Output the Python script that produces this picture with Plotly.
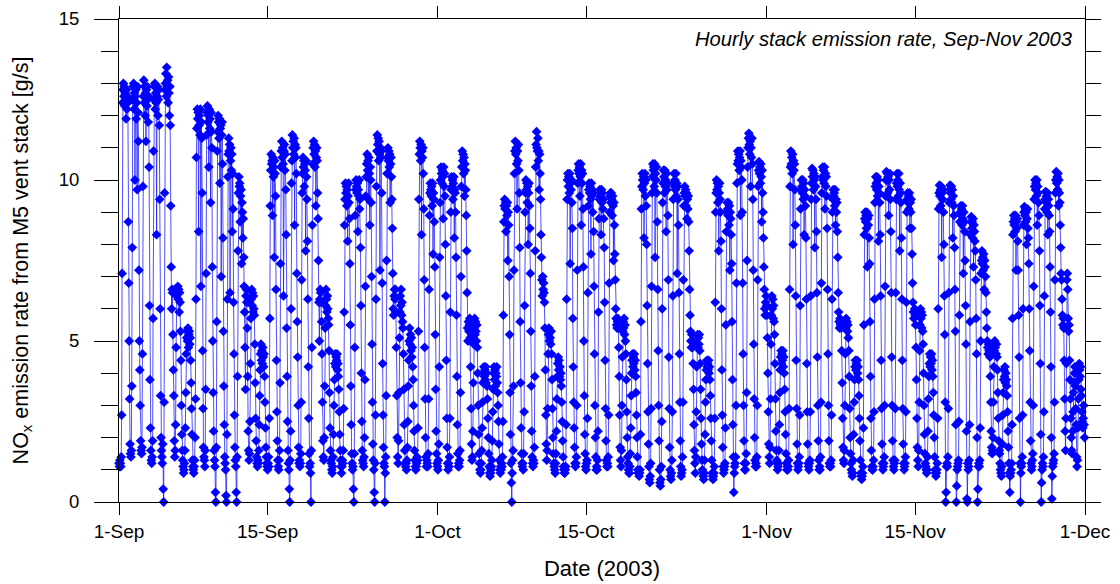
import plotly.graph_objects as go
import pandas as pd

# Hourly NOx emission rate [g/s], one list of 24 hourly values per day
sep_hourly = [
    [1.2,1.1,1.3,1.2,1.1,1.4, 2.7,7.1,12.4,12.8,13.0,12.6, 12.9,12.3,12.7,12.5,11.9,12.8, 12.2,12.6,12.4,8.7,6.8,5.0],
    [3.2,1.8,1.5,1.4,1.6,3.6, 7.9,12.5,12.9,13.0,12.2,12.7, 10.0,12.6,12.8,11.9,12.4,9.7, 12.9,12.1,11.2,7.2,5.0,4.1],
    [3.0,1.9,1.6,1.5,1.7,4.6, 9.8,12.6,13.1,12.4,12.9,12.0, 12.7,11.2,12.8,12.3,12.9,12.5, 11.8,12.6,10.4,6.1,3.8,2.3],
    [1.6,1.3,1.2,1.4,1.9,5.7, 10.9,12.5,12.9,13.0,12.2,12.7, 12.4,8.3,12.6,12.9,12.0,12.5, 12.8,11.7,9.4,6.0,3.3,2.0],
    [1.6,1.4,1.2,1.8,0.4,0.0, 3.1,9.6,12.8,13.0,13.3,12.6, 13.5,12.9,13.1,12.4,13.2,12.7, 12.0,12.9,11.7,9.2,7.3,6.0],
    [6.6,6.5,5.2,4.1,3.3,1.9, 1.4,1.6,2.4,4.8,6.4,6.6, 6.5,6.7,6.3,6.6,5.9,6.5, 6.2,5.3,4.4,3.0,2.1,1.6],
    [1.3,1.1,0.9,1.0,1.2,1.6, 2.3,3.4,4.6,5.1,5.3,5.0, 5.4,4.8,5.2,5.3,4.9,5.1, 4.4,3.7,2.9,2.1,1.3,1.1],
    [1.0,0.9,1.1,1.3,2.0,3.2, 6.3,10.7,11.6,12.2,11.9,12.1, 8.4,11.7,12.0,11.4,12.2,6.7, 11.8,11.3,9.6,4.7,2.9,1.7],
    [1.4,1.3,1.1,1.6,3.5,7.1, 11.4,12.1,12.3,11.8,12.0,10.4, 12.2,11.6,11.9,9.3,12.1,11.5, 11.0,7.3,5.0,3.4,2.2,1.6],
    [1.3,1.1,0.3,0.0,1.7,5.6, 10.9,11.5,12.0,11.8,11.3,11.9, 9.9,11.6,11.7,7.0,11.4,11.8, 10.5,8.2,5.3,3.6,2.4,1.4],
    [1.2,1.0,0.2,0.0,2.1,6.3, 10.1,10.8,11.3,10.9,11.1,6.5, 10.6,11.0,10.3,10.8,8.4,10.2, 9.1,6.2,4.6,2.7,1.7,1.3],
    [1.1,0.3,0.0,1.4,3.9,7.8, 9.6,10.1,9.8,9.9,8.7,9.5, 9.7,7.4,9.3,9.0,8.2,8.8, 7.6,6.7,5.9,4.8,3.5,6.4],
    [6.6,6.2,5.4,3.9,2.2,1.6, 1.3,1.5,2.5,4.3,5.7,6.3, 6.6,6.1,6.5,5.9,6.4,6.0, 5.8,4.9,3.7,2.6,1.9,1.4],
    [1.2,1.1,1.3,1.2,1.6,2.4, 3.3,4.1,4.6,4.9,4.4,4.7, 4.3,4.8,4.5,4.2,4.6,3.9, 3.1,2.3,1.7,1.4,1.2,1.1],
    [1.0,1.2,1.4,1.1,2.6,5.7, 9.2,10.3,10.8,10.5,10.6,8.9, 10.7,10.1,10.4,7.6,10.6,10.2, 9.5,6.6,4.4,2.8,1.9,1.3],
    [1.1,1.0,1.3,1.6,3.7,7.4, 10.4,10.9,11.2,10.7,11.0,10.5, 6.4,10.9,11.1,10.3,10.8,9.7, 8.3,5.4,3.9,2.5,1.6,1.2],
    [1.0,0.4,0.0,1.3,2.2,6.0, 9.9,10.6,11.4,11.0,11.2,10.8, 11.3,8.6,11.1,10.7,11.0,10.2, 7.1,5.6,4.5,3.0,1.7,1.2],
    [1.3,1.1,1.2,1.5,3.1,6.9, 9.6,10.2,10.7,10.4,10.6,9.8, 10.5,10.3,7.8,10.6,10.1,9.4, 8.1,6.3,4.2,2.6,1.5,1.1],
    [1.2,0.9,0.0,1.6,4.8,8.6, 10.5,11.0,11.2,10.8,11.1,10.4, 10.9,9.2,10.7,11.0,10.6,9.6, 8.8,7.5,6.2,5.0,6.3,6.6],
    [6.5,6.2,5.6,4.6,3.1,1.9, 1.4,1.3,2.0,3.6,5.4,6.1, 6.6,6.3,5.9,6.4,6.0,5.7, 5.5,4.7,3.4,2.3,1.6,1.3],
    [1.2,1.0,0.9,1.1,1.4,2.1, 3.0,3.8,4.3,4.6,4.2,4.5, 4.4,4.6,4.1,4.3,3.9,3.5, 2.8,2.1,1.6,1.3,1.1,0.9],
    [1.1,1.3,1.2,1.6,2.9,5.9, 8.6,9.4,9.9,9.6,9.8,9.2, 9.7,8.1,9.5,9.9,9.3,8.8, 7.4,5.5,3.6,2.4,1.5,1.2],
    [1.0,1.1,0.4,0.0,1.5,4.8, 8.9,9.7,10.0,9.8,9.6,9.9, 8.4,9.7,9.5,10.0,9.1,9.4, 7.9,6.1,4.0,2.5,1.6,1.3],
    [1.2,1.1,1.4,2.0,3.8,6.7, 9.5,10.1,10.5,10.8,10.3,10.6, 9.4,10.7,10.2,8.6,10.4,10.0, 9.3,7.0,4.9,3.1,1.8,1.3],
    [1.0,0.3,0.0,1.2,2.7,6.3, 9.8,10.9,11.4,11.1,11.3,10.6, 11.2,10.8,7.2,11.0,10.7,10.9, 9.6,6.8,4.3,2.7,1.7,1.2],
    [1.1,0.0,0.9,1.4,3.3,7.5, 10.2,10.7,11.0,10.6,10.9,10.4, 10.8,9.3,10.5,10.7,10.1,9.4, 8.5,7.1,6.0,5.8,6.4,6.6],
    [6.3,6.6,5.9,4.8,3.3,2.0, 1.4,1.2,1.9,3.4,5.1,5.9, 6.4,6.1,6.6,5.8,6.2,5.6, 5.4,4.6,3.5,2.4,1.6,1.2],
    [1.1,1.2,1.0,1.3,1.7,2.5, 3.6,4.4,5.0,5.4,4.9,5.2, 4.7,5.1,4.5,4.8,4.2,3.8, 3.0,2.2,1.6,1.3,1.1,1.0],
    [1.1,1.2,1.4,1.3,2.3,5.3, 9.4,10.8,11.2,11.0,10.6,11.1, 8.3,10.9,10.7,11.0,10.2,9.1, 6.9,4.8,3.2,2.0,1.4,1.1],
    [1.3,1.2,1.1,1.5,3.2,6.6, 8.9,9.6,9.9,9.7,9.5,9.8, 9.2,9.9,7.7,9.6,9.4,8.7, 7.3,5.2,3.5,2.2,1.5,1.2],
]

oct_hourly = [
    [1.1,1.0,1.3,1.8,4.2,7.6, 9.3,10.0,10.4,10.2,9.9,10.3, 10.1,8.8,10.4,9.8,10.2,9.5, 8.0,6.4,4.4,2.6,1.7,1.2],
    [1.0,1.2,1.1,1.4,2.6,5.9, 9.0,9.7,10.1,9.8,10.0,9.4, 9.9,10.1,8.2,9.7,9.6,9.0, 7.6,5.8,3.9,2.4,1.5,1.1],
    [1.2,1.1,1.3,1.6,3.4,7.0, 9.8,10.4,10.9,10.6,10.8,10.2, 10.7,9.5,10.5,10.3,9.7,8.9, 7.8,6.5,5.4,5.0,5.6,5.3],
    [5.5,5.7,5.1,4.2,2.9,1.8, 1.3,1.4,2.2,3.7,4.9,5.4, 5.7,5.2,5.6,5.3,5.0,5.5, 4.8,4.0,3.0,2.1,1.5,1.2],
    [1.0,0.9,1.0,1.2,1.6,2.3, 3.1,3.7,4.0,4.2,3.9,4.1, 3.8,4.2,3.7,4.0,3.6,3.2, 2.6,2.0,1.5,1.1,0.9,0.8],
    [0.9,1.0,1.1,1.3,1.9,2.8, 3.5,4.0,4.2,3.8,4.1,3.6, 4.0,3.9,4.2,3.7,3.4,3.0, 2.5,1.8,1.3,1.0,0.9,1.1],
    [1.0,1.2,1.1,1.4,2.5,5.8, 8.7,9.2,9.4,9.1,9.3,8.4, 9.2,8.9,9.3,7.5,9.0,8.6, 7.0,5.2,3.4,2.1,1.2,0.6],
    [0.0,0.9,1.3,1.6,3.6,7.2, 10.2,10.9,11.2,10.8,11.0,10.5, 9.1,10.9,10.6,11.1,10.3,9.6, 7.9,5.6,3.7,2.3,1.5,1.2],
    [1.1,1.2,1.0,1.5,2.8,6.1, 9.0,9.6,10.0,9.7,9.9,9.3, 9.8,8.0,9.6,9.9,9.2,8.5, 7.1,5.3,3.6,2.2,1.4,1.2],
    [1.1,1.3,1.2,1.7,3.9,7.8, 10.4,11.1,11.5,11.0,10.9,11.3, 10.6,10.9,9.7,10.8,10.2,9.4, 8.3,7.6,6.9,6.4,7.0,6.6],
    [6.8,6.5,6.2,5.4,4.1,2.7, 1.8,1.3,1.6,2.9,4.6,5.2, 5.4,5.0,5.3,5.1,4.9,5.3, 4.6,3.8,2.9,2.0,1.5,1.2],
    [1.1,1.0,0.9,1.2,1.5,2.2, 3.2,3.9,4.3,4.5,4.1,4.4, 3.9,4.2,3.8,4.0,3.6,3.1, 2.5,1.9,1.4,1.1,1.0,0.9],
    [0.9,1.0,1.1,2.4,6.3,9.4, 10.0,10.2,9.8,10.1,9.6,10.2, 7.4,9.9,9.7,10.0,9.3,8.5, 5.7,4.2,3.1,2.3,1.7,1.2],
    [1.1,1.2,1.4,3.0,7.2,9.9, 10.3,10.5,10.2,10.4,9.5,10.1, 10.5,8.6,10.3,9.9,10.2,9.1, 7.3,5.0,3.3,2.1,1.5,1.1],
    [1.0,1.2,1.3,2.6,6.5,9.2, 9.7,9.9,9.6,9.8,9.4,7.7, 9.9,9.5,9.7,9.0,9.6,8.4, 6.7,4.6,3.0,2.0,1.4,1.0],
    [1.1,1.0,1.3,2.2,5.9,8.8, 9.4,9.7,9.5,9.6,8.3,9.7, 9.3,9.6,9.1,9.4,8.8,7.9, 6.2,4.4,2.9,1.9,1.3,1.1],
    [1.2,1.1,1.4,2.7,6.8,9.0, 9.5,9.6,9.3,9.6,9.4,8.9, 9.5,9.2,7.5,9.3,8.6,7.7, 6.9,6.0,5.7,5.5,5.4,5.6],
    [5.7,5.4,4.8,3.9,2.7,1.7, 1.3,1.1,1.6,3.0,4.5,5.3, 5.6,5.4,5.7,5.2,5.5,5.0, 4.6,3.8,2.8,2.0,1.4,1.2],
    [1.0,0.9,0.9,1.1,1.5,2.3, 3.3,4.0,4.4,4.6,4.2,4.5, 4.3,4.6,4.1,4.4,3.9,3.4, 2.7,2.0,1.4,1.0,0.9,0.9],
    [0.8,0.9,1.0,2.1,5.6,9.1, 9.8,10.2,10.0,9.7,10.1,8.2, 9.9,10.2,9.5,10.0,9.2,8.0, 6.1,4.3,2.8,1.8,1.1,0.7],
    [0.6,0.8,1.2,2.9,6.7,9.6, 10.1,10.5,10.3,10.4,9.8,10.5, 7.6,10.2,10.0,10.4,9.6,8.7, 6.6,4.7,3.0,1.9,1.0,0.6],
    [0.5,0.7,1.1,2.5,6.0,9.3, 9.9,10.3,10.1,9.6,10.3,9.8, 10.0,8.4,10.2,9.7,9.9,8.9, 6.9,4.5,2.9,1.7,1.0,0.8],
    [0.7,0.9,1.3,2.8,6.4,9.4, 9.9,10.2,9.8,10.0,9.7,10.2, 9.5,9.9,7.1,9.8,9.4,8.6, 6.5,4.6,3.1,1.9,1.1,0.8],
    [0.9,1.0,1.4,3.1,6.9,9.2, 9.6,9.8,9.5,9.7,9.2,9.6, 8.8,9.4,9.1,9.5,8.7,7.8, 6.6,5.8,5.3,5.0,4.8,5.2],
    [5.0,4.8,4.3,3.5,2.4,1.6, 1.2,0.9,1.4,2.8,4.2,4.9, 5.2,4.8,5.1,4.9,5.2,4.7, 4.3,3.5,2.6,1.8,1.3,1.0],
    [0.9,0.8,0.7,0.9,1.3,2.1, 3.1,3.8,4.1,4.4,4.2,4.3, 4.1,4.4,4.0,4.2,3.8,3.3, 2.6,1.9,1.3,0.9,0.8,0.7],
    [0.8,0.9,1.1,2.6,6.2,9.0, 9.6,10.0,9.7,9.9,9.3,9.8, 7.8,9.6,9.9,9.4,9.0,8.1, 6.0,4.1,2.7,1.7,1.1,0.9],
    [1.0,1.1,1.2,2.3,5.5,8.4, 9.0,9.3,9.1,8.9,9.3,8.6, 9.2,7.2,9.0,8.8,8.3,7.4, 5.6,3.8,2.4,1.4,0.3,0.9],
    [1.1,1.2,1.4,3.0,6.8,9.9, 10.5,10.9,10.6,10.8,10.3,10.7, 10.9,8.9,10.6,10.4,10.0,9.0, 6.8,4.6,3.0,1.9,1.2,1.0],
    [1.0,1.2,1.5,3.4,7.5,10.4, 11.0,11.3,11.45,11.1,10.8,11.2, 9.8,11.0,10.7,11.3,10.5,9.4, 7.2,4.9,3.2,2.0,1.3,1.1],
    [1.2,1.1,1.4,3.0,6.9,9.8, 10.3,10.57,10.2,10.4,9.9,10.5, 10.1,8.7,10.3,9.6,9.0,8.2, 7.3,6.6,6.0,5.8,6.2,6.4],
]

nov_hourly = [
    [6.1,5.8,5.1,4.0,2.8,1.8, 1.4,1.2,1.7,3.2,4.9,5.8, 6.4,6.0,6.3,5.7,6.1,5.6, 5.2,4.3,3.2,2.2,1.6,1.3],
    [1.2,1.0,1.1,1.2,1.6,2.4, 3.4,4.1,4.5,4.7,4.3,4.6, 4.4,4.7,4.2,4.5,4.0,3.5, 2.8,2.1,1.5,1.2,1.0,1.1],
    [1.0,1.1,1.3,2.9,6.6,9.8, 10.4,10.9,10.5,10.7,10.2,10.8, 8.0,10.6,10.3,10.5,9.7,8.6, 6.4,4.4,2.9,1.8,1.2,1.0],
    [1.1,1.2,1.4,2.7,6.1,9.1, 9.7,10.0,9.8,9.6,10.0,9.4, 9.9,8.3,9.7,9.5,9.2,8.2, 6.3,4.3,2.8,1.8,1.2,1.1],
    [1.0,1.2,1.3,2.8,6.4,9.4, 9.9,10.36,10.1,10.3,9.7,10.2, 10.0,7.9,10.1,9.8,9.4,8.4, 6.5,4.5,3.0,1.9,1.3,1.0],
    [1.1,1.0,1.4,3.1,6.8,9.6, 10.1,10.4,10.0,10.3,9.9,10.4, 9.1,10.2,9.8,10.1,9.5,8.5, 6.6,4.6,3.0,1.9,1.2,1.1],
    [1.2,1.1,1.3,2.7,6.3,9.0, 9.4,9.7,9.5,9.6,9.2,9.7, 8.6,9.4,9.0,9.3,8.4,7.6, 6.5,5.9,5.6,5.4,5.7,5.5],
    [5.6,5.4,4.7,3.7,2.6,1.7, 1.3,1.2,1.6,3.0,4.6,5.4, 5.7,5.5,5.6,5.3,5.5,5.1, 4.7,3.9,2.9,2.0,1.5,1.2],
    [1.0,0.9,0.8,0.9,1.3,2.1, 3.1,3.8,4.2,4.4,4.1,4.3, 4.2,4.4,4.0,4.2,3.8,3.3, 2.6,1.9,1.3,0.9,0.8,0.7],
    [0.8,0.9,1.1,2.3,5.5,8.3, 8.8,9.0,8.7,8.9,8.5,9.0, 7.3,8.8,8.6,8.9,8.2,7.4, 5.6,3.9,2.6,1.6,1.1,1.0],
    [1.0,1.1,1.3,2.8,6.3,9.3, 9.8,10.1,9.9,9.7,10.1,9.5, 10.0,8.1,9.8,9.6,9.3,8.3, 6.4,4.4,2.9,1.8,1.2,1.0],
    [1.1,1.2,1.4,3.0,6.7,9.5, 10.0,10.26,10.0,10.2,9.6,10.1, 8.9,10.0,9.7,10.2,9.4,8.4, 6.5,4.5,3.0,1.9,1.3,1.1],
    [1.0,1.2,1.3,2.9,6.5,9.4, 9.9,10.2,9.8,10.0,9.5,10.2, 9.7,7.8,9.9,9.6,9.3,8.2, 6.3,4.4,2.9,1.8,1.2,1.0],
    [1.1,1.2,1.4,2.8,6.2,9.0, 9.4,9.6,9.3,9.5,9.1,9.6, 8.5,9.3,9.0,9.4,8.5,7.7, 6.8,6.2,5.9,5.7,5.9,6.0],
    [5.8,5.5,4.8,3.8,2.6,1.7, 1.3,1.1,1.6,3.1,4.7,5.5, 6.0,5.7,5.9,5.4,5.8,5.3, 4.9,4.0,3.0,2.1,1.5,1.2],
    [1.1,1.0,0.9,1.0,1.4,2.2, 3.2,3.9,4.3,4.6,4.2,4.5, 4.3,4.6,4.1,4.4,3.9,3.4, 2.7,2.0,1.4,1.0,0.9,0.8],
    [0.9,1.0,1.2,2.6,6.0,9.1, 9.6,9.84,9.5,9.7,9.2,9.8, 7.6,9.6,9.4,9.7,9.0,8.0, 6.4,5.2,3.1,0.0,0.3,1.1],
    [1.2,1.1,1.4,2.9,6.5,9.3, 9.7,9.84,9.6,9.4,9.8,9.3, 9.7,8.2,9.5,9.2,8.9,7.9, 6.6,5.3,2.4,0.0,0.5,1.0],
    [1.1,1.2,1.3,2.5,5.8,8.7, 9.0,9.2,8.9,9.1,8.6,9.2, 8.8,7.1,9.0,8.7,8.4,7.5, 6.1,4.9,2.2,0.1,0.0,1.2],
    [1.0,1.1,1.3,2.4,5.6,8.3, 8.7,8.86,8.5,8.7,8.2,8.8, 7.3,8.6,8.4,8.1,7.8,6.9, 5.7,4.6,2.0,0.0,0.4,1.1],
    [1.2,1.1,1.3,2.3,5.0,7.1, 7.5,7.8,7.4,7.6,7.2,7.7, 6.6,7.5,7.3,7.0,6.5,5.9, 5.4,5.0,4.8,4.6,4.9,4.7],
    [4.8,4.5,3.9,3.1,2.2,1.7, 1.5,1.6,2.0,3.1,4.2,4.7, 5.0,4.8,4.9,4.6,4.9,4.5, 4.1,3.4,2.6,1.9,1.6,1.5],
    [1.2,1.0,0.9,0.8,1.1,1.8, 2.7,3.4,3.8,4.1,3.9,4.2, 3.7,4.0,3.8,3.6,3.3,2.8, 2.2,1.7,1.2,0.9,0.3,0.8],
    [0.9,1.0,1.2,2.4,5.7,8.3, 8.7,8.9,8.6,8.8,8.4,8.9, 7.2,8.7,8.5,8.8,8.1,7.2, 5.8,4.5,2.6,1.2,0.0,0.9],
    [1.1,1.2,1.4,2.7,6.0,8.6, 9.0,9.17,8.9,9.1,8.7,9.0, 8.0,8.8,9.1,8.5,8.2,7.4, 6.0,4.7,3.1,1.9,1.2,1.0],
    [1.1,1.3,1.5,3.0,6.7,9.4, 9.8,10.0,9.7,9.9,9.5,10.0, 8.6,9.8,9.6,9.3,8.9,7.8, 6.1,4.3,2.1,0.0,0.6,1.0],
    [1.2,1.1,1.4,2.8,6.4,9.1, 9.4,9.64,9.3,9.5,9.0,9.6, 8.3,9.4,9.2,8.9,8.4,7.3, 5.9,4.2,2.0,0.1,0.8,1.1],
    [1.2,1.3,1.5,3.1,6.9,9.6, 10.0,10.26,9.9,10.1,9.7,10.2, 9.2,10.0,9.6,9.3,8.6,7.9, 7.1,6.9,6.3,5.8,5.5,5.7],
    [5.4,4.4,3.2,2.2,1.6,2.6, 4.3,6.9,7.1,6.6,5.7,5.3, 5.5,4.4,3.8,3.2,2.6,2.0, 1.6,1.5,2.2,2.8,3.4,3.7],
    [4.0,4.2,3.6,2.9,2.4,1.4, 1.1,1.3,2.3,3.2,3.8,4.3, 4.1,3.9,4.2,3.5,3.3,2.8, 2.5,2.3,2.6,3.0,2.4,2.0],
]

x_tick_dates = ["2003-09-01", "2003-09-15", "2003-10-01", "2003-10-15",
                "2003-11-01", "2003-11-15", "2003-12-01"]
x_tick_labels = ["1-Sep", "15-Sep", "1-Oct", "15-Oct", "1-Nov", "15-Nov", "1-Dec"]
y_tick_values = [0, 5, 10, 15]

for month in (sep_hourly, oct_hourly, nov_hourly):
    for i, day in enumerate(month):
        assert len(day) == 24, (i, len(day))

values = [v for month in (sep_hourly, oct_hourly, nov_hourly) for day in month for v in day]
times = pd.date_range("2003-09-01 00:00", periods=len(values), freq="h")

FONT = "Liberation Sans, Arial, Helvetica, sans-serif"

fig = go.Figure()
fig.add_trace(go.Scatter(
    x=times, y=values, mode="lines+markers",
    line=dict(color="rgba(20,20,255,0.75)", width=1),
    marker=dict(symbol="diamond", size=7.5, color="#0000ff", line=dict(width=0)),
    cliponaxis=False, showlegend=False, hoverinfo="skip",
))
# helper trace so the right-hand tick axis is drawn
fig.add_trace(go.Scatter(x=[times[0]], y=[None], yaxis="y2", mode="markers",
                         showlegend=False, hoverinfo="skip"))

fig.update_layout(
    width=1120, height=584,
    margin=dict(l=119, r=35, t=19, b=82, autoexpand=False),
    paper_bgcolor="white", plot_bgcolor="white",
    font=dict(family=FONT, color="black", size=19),
    xaxis=dict(
        type="date", range=["2003-09-01", "2003-12-01"],
        tickvals=x_tick_dates, ticktext=x_tick_labels,
        ticks="outside", ticklen=12, tickwidth=1, tickcolor="black",
        showline=True, linecolor="black", linewidth=1, mirror="ticks",
        showgrid=False, zeroline=False, automargin=False,
        tickfont=dict(size=19, family=FONT),
        title=dict(text="Date (2003)", font=dict(size=22, family=FONT), standoff=19),
    ),
    yaxis=dict(
        range=[0, 15], tickvals=y_tick_values,
        ticks="outside", ticklen=24, tickwidth=1, tickcolor="black",
        ticklabelstandoff=11,
        minor=dict(dtick=1, ticks="outside", ticklen=17, tickcolor="black", tickwidth=1, showgrid=False),
        showline=True, linecolor="black", linewidth=1, mirror=True,
        showgrid=False, zeroline=False, automargin=False,
        tickfont=dict(size=18.5, family=FONT),
        title=dict(text="NO<sub>x</sub> emission rate from M5 vent stack [g/s]",
                   font=dict(size=21.5, family=FONT), standoff=24),
    ),
    yaxis2=dict(
        overlaying="y", side="right", range=[0, 15], dtick=1,
        ticks="outside", ticklen=15, tickwidth=1, tickcolor="black",
        showticklabels=False, showline=False, showgrid=False, zeroline=False,
    ),
    annotations=[dict(
        text="<i>Hourly stack emission rate, Sep-Nov 2003</i>",
        xref="paper", yref="paper", x=0.99, y=0.958,
        xanchor="right", yanchor="middle", showarrow=False,
        font=dict(size=20.2, family=FONT, color="black"),
    )],
)

fig.write_html("out.html")
